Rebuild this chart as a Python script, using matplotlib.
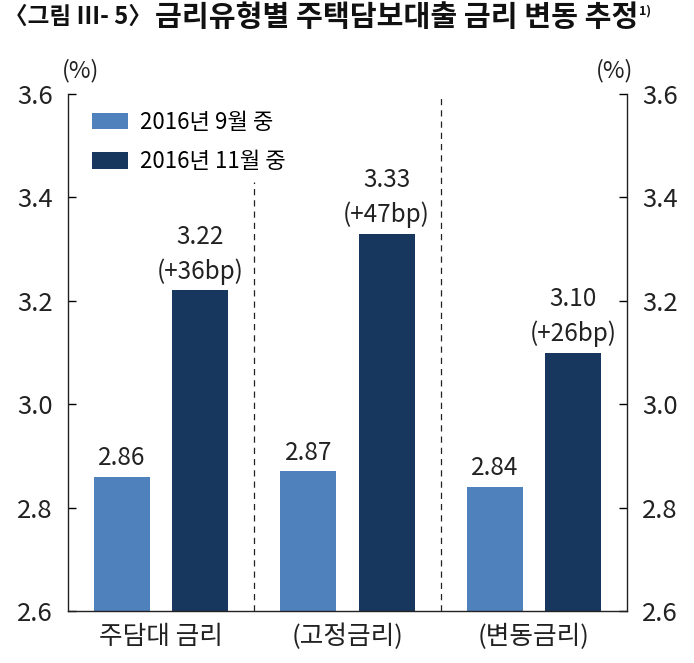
import numpy as np
import matplotlib.pyplot as plt

plt.rcParams['font.family'] = ['Noto Sans CJK KR', 'DejaVu Sans']

categories = ['주담대 금리', '(고정금리)', '(변동금리)']
sep_rates = [2.86, 2.87, 2.84]
nov_rates = [3.22, 3.33, 3.10]
changes = ['+36bp', '+47bp', '+26bp']
labels = ['2016년 9월 중', '2016년 11월 중']
yticks = [2.6, 2.8, 3.0, 3.2, 3.4, 3.6]

light = '#4F81BD'
dark = '#17375E'
txt = '#222222'

fig = plt.figure(figsize=(6.94, 6.63), dpi=100)
ax = fig.add_axes([0.098, 0.0784, 0.8055, 0.7798])

x = np.arange(len(categories))
w = 0.30
ax.bar(x - 0.21, sep_rates, w, color=light, label=labels[0], zorder=2)
ax.bar(x + 0.21, nov_rates, w, color=dark, label=labels[1], zorder=2)

ax.set_xlim(-0.5, 2.5)
ax.set_ylim(2.6, 3.6)
ax.set_yticks(yticks)
ax.set_yticklabels([f'{v:.1f}' for v in yticks], fontsize=18.5, color=txt)
ax.set_xticks(x)
ax.set_xticklabels(categories, fontsize=18.5, color=txt)
ax.tick_params(axis='x', length=0, pad=9)
ax.tick_params(axis='y', direction='in', length=6, width=1, pad=11,
               left=True, right=True, labelleft=True, labelright=True)
for s in ax.spines.values():
    s.set_linewidth(1.0)
    s.set_color(txt)
ax.spines['top'].set_visible(False)

# group separators
ax.axvline(0.5, ymax=0.83, color=txt, lw=0.9, ls=(0, (5, 4)), zorder=1)
ax.axvline(1.5, color=txt, lw=0.9, ls=(0, (5, 4)), zorder=1)

# value labels
for xi, v in zip(x, sep_rates):
    ax.annotate(f'{v:.2f}', (xi - 0.21, v), xytext=(0, 4), textcoords='offset points',
                ha='center', va='bottom', fontsize=17.5, color=txt)
for xi, v, c in zip(x, nov_rates, changes):
    ax.annotate(f'{v:.2f}\n({c})', (xi + 0.21, v), xytext=(0, 4), textcoords='offset points',
                ha='center', va='bottom', fontsize=17.5, color=txt, linespacing=1.4)

ax.text(0.023, 1.046, '(%)', transform=ax.transAxes, ha='center', va='center',
        fontsize=17, color=txt)
ax.text(0.977, 1.046, '(%)', transform=ax.transAxes, ha='center', va='center',
        fontsize=17, color=txt)

ax.legend(loc='upper left', bbox_to_anchor=(0.043, 0.968), frameon=False,
          fontsize=16, handlelength=1.6, handleheight=0.75, handletextpad=0.55,
          labelspacing=0.75, borderpad=0, borderaxespad=0)

fig.text(0.006, 0.975, '〈그림 Ⅲ- 5〉', fontsize=17, fontweight='bold',
         ha='left', va='center', color='#111111')
t = fig.text(0.224, 0.975, '금리유형별 주택담보대출 금리 변동 추정',
             fontsize=21, fontweight='bold', ha='left', va='center', color='#111111')
ax.annotate('1)', xy=(1, 0.9), xycoords=t, ha='left', va='top',
            fontsize=9, fontweight='bold', color='#111111')

fig.savefig('out.png', dpi=100)
